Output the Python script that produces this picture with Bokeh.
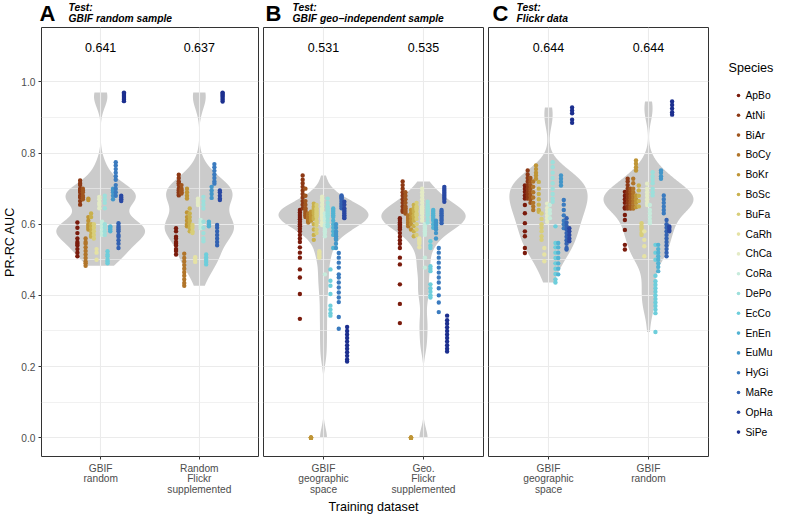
import numpy as np
from bokeh.plotting import figure
from bokeh.models import Range1d, FixedTicker, Grid, PrintfTickFormatter
from bokeh.layouts import row, column
from bokeh.embed import file_html
from bokeh.resources import INLINE
from bokeh.core.properties import value

# ---------------- data ----------------
SPECIES = ["ApBo", "AtNi", "BiAr", "BoCy", "BoKr", "BoSc", "BuFa", "CaRh", "ChCa",
           "CoRa", "DePo", "EcCo", "EnEn", "EuMu", "HyGi", "MaRe", "OpHa", "SiPe"]
COLORS = ["#7a1b0c", "#8d3915", "#a0561f", "#b1752a", "#bf9536", "#c9b14d", "#d8ce79",
          "#e5e2a4", "#e4ebc6", "#c7ebdc", "#9ddfdb", "#6ecedb", "#52b3d3", "#4396c9",
          "#3b7bbf", "#3362b2", "#2948a3", "#1c2f8f"]

A_GBIF_RANDOM = {
    "ApBo": [0.605, 0.59, 0.575, 0.56, 0.55, 0.545, 0.54, 0.53, 0.52, 0.51],
    "AtNi": [0.723, 0.715, 0.71, 0.70, 0.695, 0.69, 0.68, 0.675, 0.665, 0.655],
    "BiAr": [0.70, 0.695, 0.69, 0.68, 0.675, 0.67],
    "BoCy": [0.56, 0.55, 0.545, 0.535, 0.525, 0.515, 0.505, 0.495, 0.49, 0.483],
    "BoKr": [0.672, 0.668, 0.62, 0.61, 0.60, 0.595, 0.59, 0.585],
    "BoSc": [0.63, 0.62, 0.60, 0.59, 0.58, 0.57, 0.565],
    "BuFa": [0.60, 0.59, 0.58, 0.57, 0.56],
    "CaRh": [0.53, 0.52, 0.50],
    "ChCa": [0.677, 0.67, 0.66, 0.655, 0.645],
    "CoRa": [0.607, 0.60, 0.595, 0.59, 0.58, 0.575, 0.57],
    "DePo": [0.68, 0.67, 0.66, 0.645, 0.60, 0.59, 0.58, 0.57],
    "EcCo": [0.524, 0.515, 0.51, 0.50, 0.495, 0.49],
    "EnEn": [0.594, 0.59, 0.585, 0.58],
    "EuMu": [0.70, 0.695, 0.69, 0.68, 0.67],
    "HyGi": [0.774, 0.765, 0.755, 0.745, 0.735, 0.725, 0.71, 0.70, 0.69, 0.68],
    "MaRe": [0.603, 0.595, 0.59, 0.585, 0.58, 0.57, 0.565, 0.555, 0.545, 0.533],
    "OpHa": [0.68, 0.675, 0.67, 0.665],
    "SiPe": [0.97, 0.967, 0.963, 0.96, 0.955, 0.95, 0.946],
}
A_RANDOM_FLICKR = {
    "ApBo": [0.589, 0.58, 0.565, 0.56, 0.55, 0.545, 0.54, 0.53, 0.525, 0.515],
    "AtNi": [0.739, 0.73, 0.72, 0.715, 0.71, 0.70, 0.695, 0.69, 0.685, 0.681],
    "BiAr": [0.71, 0.70, 0.695, 0.69, 0.686],
    "BoCy": [0.517, 0.505, 0.495, 0.485, 0.475, 0.465, 0.455, 0.445, 0.435, 0.427],
    "BoKr": [0.70, 0.69, 0.68, 0.672, 0.633, 0.62, 0.61, 0.60, 0.594],
    "BoSc": [0.644, 0.63, 0.62, 0.61, 0.60, 0.59, 0.58],
    "BuFa": [0.598, 0.59, 0.58, 0.575],
    "CaRh": [0.507, 0.50, 0.494],
    "ChCa": [0.672, 0.665, 0.66, 0.654],
    "CoRa": [0.612, 0.605, 0.60, 0.594, 0.589],
    "DePo": [0.677, 0.665, 0.655, 0.644, 0.607, 0.59, 0.575, 0.56, 0.552],
    "EcCo": [0.515, 0.507, 0.50, 0.494, 0.487],
    "EnEn": [0.607, 0.60, 0.594],
    "EuMu": [0.705, 0.695, 0.685, 0.674],
    "HyGi": [0.769, 0.76, 0.75, 0.74, 0.73, 0.72, 0.714],
    "MaRe": [0.598, 0.59, 0.58, 0.57, 0.56, 0.55, 0.541],
    "OpHa": [0.695, 0.69, 0.68, 0.672, 0.668],
    "SiPe": [0.97, 0.967, 0.963, 0.96, 0.955, 0.95, 0.945],
}
B_GBIF_GEO = {
    "ApBo": [0.64, 0.633, 0.626, 0.62, 0.614, 0.607, 0.60, 0.594, 0.587, 0.58, 0.57, 0.56,
             0.55, 0.535, 0.52, 0.506, 0.473, 0.45, 0.404, 0.334],
    "AtNi": [0.737, 0.725, 0.715, 0.705, 0.695, 0.685, 0.675, 0.665, 0.655, 0.645],
    "BiAr": [0.70, 0.68, 0.665, 0.655, 0.645, 0.64, 0.635, 0.63, 0.625, 0.62],
    "BoCy": [0.63, 0.625, 0.621, 0.619, 0.617, 0.615, 0.612, 0.61, 0.608, 0.605],
    "BoKr": [0.635, 0.63, 0.625, 0.62, 0.615, 0.61, 0.0, 0.0, 0.0, 0.0, 0.0, 0.0, 0.0],
    "BoSc": [0.658, 0.65, 0.645, 0.64, 0.635, 0.63, 0.62, 0.615, 0.60, 0.585, 0.57, 0.556],
    "BuFa": [0.654, 0.645, 0.64, 0.635, 0.63, 0.625, 0.62, 0.61, 0.605, 0.598, 0.585, 0.575],
    "CaRh": [0.524, 0.52, 0.515, 0.51, 0.506],
    "ChCa": [0.677, 0.67, 0.665, 0.655, 0.645, 0.64, 0.635, 0.63, 0.625, 0.62, 0.615, 0.605, 0.598],
    "CoRa": [0.63, 0.62, 0.61, 0.598, 0.595, 0.59, 0.585, 0.58, 0.575, 0.566, 0.459],
    "DePo": [0.672, 0.66, 0.65, 0.645, 0.64, 0.635, 0.63, 0.625, 0.62, 0.61, 0.60, 0.594],
    "EcCo": [0.473, 0.441, 0.427, 0.404, 0.371, 0.36, 0.35, 0.343],
    "EnEn": [0.644, 0.64, 0.635, 0.63, 0.625, 0.62, 0.61, 0.60, 0.59, 0.58, 0.57, 0.533],
    "EuMu": [0.60, 0.59, 0.58, 0.575, 0.57, 0.566, 0.56, 0.556, 0.545, 0.533],
    "HyGi": [0.519, 0.506, 0.492, 0.478, 0.459, 0.45, 0.436, 0.422, 0.408, 0.394, 0.381, 0.339, 0.306],
    "MaRe": [0.681, 0.678, 0.675, 0.672, 0.668, 0.663, 0.658, 0.654, 0.65, 0.645],
    "OpHa": [0.663, 0.655, 0.645, 0.64, 0.635, 0.63, 0.625, 0.62, 0.617],
    "SiPe": [0.311, 0.30, 0.29, 0.28, 0.27, 0.26, 0.25, 0.24, 0.23, 0.22, 0.214],
}
B_GEO_FLICKR = {
    "ApBo": [0.617, 0.612, 0.605, 0.60, 0.595, 0.59, 0.585, 0.575, 0.565, 0.555, 0.545, 0.533,
             0.506, 0.487, 0.431, 0.376, 0.322],
    "AtNi": [0.72, 0.71, 0.70, 0.69, 0.68, 0.67, 0.66, 0.65, 0.64, 0.635],
    "BiAr": [0.69, 0.68, 0.67, 0.66, 0.65, 0.645, 0.64, 0.635, 0.63],
    "BoCy": [0.625, 0.621, 0.618, 0.615, 0.61, 0.605, 0.60, 0.594],
    "BoKr": [0.64, 0.63, 0.62, 0.61, 0.60, 0.585, 0.0, 0.0, 0.0, 0.0, 0.0, 0.0, 0.0],
    "BoSc": [0.654, 0.645, 0.64, 0.635, 0.625, 0.62, 0.61, 0.595, 0.58, 0.566],
    "BuFa": [0.66, 0.65, 0.645, 0.64, 0.63, 0.625, 0.615, 0.60, 0.585, 0.57],
    "CaRh": [0.56, 0.555, 0.55, 0.545, 0.535],
    "ChCa": [0.70, 0.69, 0.68, 0.67, 0.66, 0.65, 0.645, 0.64, 0.635, 0.63, 0.62, 0.61],
    "CoRa": [0.60, 0.594, 0.59, 0.585, 0.58, 0.575, 0.57, 0.506, 0.478],
    "DePo": [0.663, 0.655, 0.65, 0.645, 0.64, 0.635, 0.63, 0.625, 0.615, 0.605],
    "EcCo": [0.552, 0.54, 0.533, 0.482, 0.475, 0.468, 0.431, 0.42, 0.41, 0.40, 0.394],
    "EnEn": [0.64, 0.635, 0.63, 0.625, 0.62, 0.615, 0.61, 0.60, 0.59],
    "EuMu": [0.61, 0.605, 0.60, 0.598, 0.59, 0.585, 0.575, 0.56],
    "HyGi": [0.533, 0.52, 0.506, 0.492, 0.478, 0.464, 0.45, 0.436, 0.42, 0.40, 0.38, 0.353],
    "MaRe": [0.64, 0.635, 0.63, 0.625, 0.62, 0.615, 0.61, 0.603],
    "OpHa": [0.705, 0.70, 0.695, 0.69, 0.685, 0.68, 0.675, 0.67, 0.663],
    "SiPe": [0.343, 0.33, 0.32, 0.31, 0.30, 0.29, 0.28, 0.27, 0.26, 0.25, 0.242],
}
C_GBIF_GEO = {
    "ApBo": [0.709, 0.70, 0.691, 0.681, 0.672, 0.654, 0.631, 0.603, 0.58, 0.566, 0.533, 0.519],
    "AtNi": [0.751, 0.74, 0.73, 0.72, 0.71, 0.70, 0.69, 0.68, 0.672],
    "BiAr": [0.73, 0.72, 0.71, 0.70, 0.69, 0.68, 0.67, 0.66],
    "BoCy": [0.72, 0.705, 0.69, 0.675, 0.66, 0.65, 0.64],
    "BoKr": [0.765, 0.755, 0.745, 0.737, 0.728],
    "BoSc": [0.719, 0.70, 0.685, 0.67, 0.655, 0.64, 0.635],
    "BuFa": [0.63, 0.615, 0.60, 0.59, 0.58, 0.566, 0.556],
    "CaRh": [0.533, 0.515, 0.496],
    "ChCa": [0.658, 0.645, 0.635, 0.625, 0.617, 0.607],
    "CoRa": [0.654, 0.64, 0.63, 0.617],
    "DePo": [0.774, 0.76, 0.745, 0.73, 0.715, 0.70, 0.685, 0.672, 0.663],
    "EcCo": [0.594, 0.547, 0.535, 0.52, 0.505, 0.49, 0.475, 0.46, 0.445, 0.436],
    "EnEn": [0.547, 0.535, 0.52, 0.505, 0.49, 0.475, 0.459],
    "EuMu": [0.737, 0.728, 0.719, 0.709],
    "HyGi": [0.668, 0.655, 0.64, 0.625, 0.61, 0.60, 0.589],
    "MaRe": [0.617, 0.605, 0.595, 0.585, 0.575, 0.565, 0.555, 0.545, 0.533, 0.529],
    "OpHa": [0.589, 0.58, 0.57, 0.56, 0.552],
    "SiPe": [0.928, 0.92, 0.912, 0.894, 0.885],
}
C_GBIF_RANDOM = {
    "ApBo": [0.691, 0.68, 0.67, 0.66, 0.648, 0.644, 0.626, 0.612, 0.584, 0.542, 0.529],
    "AtNi": [0.728, 0.72, 0.71, 0.70, 0.69, 0.68, 0.67, 0.66, 0.65, 0.644],
    "BiAr": [0.70, 0.69, 0.68, 0.67, 0.66, 0.65, 0.644],
    "BoCy": [0.728, 0.715, 0.70, 0.69, 0.68, 0.67, 0.66, 0.65, 0.644],
    "BoKr": [0.779, 0.77, 0.76, 0.751, 0.681, 0.67, 0.66, 0.648],
    "BoSc": [0.709, 0.695, 0.68, 0.665, 0.65],
    "BuFa": [0.603, 0.595, 0.59, 0.584, 0.575, 0.57],
    "CaRh": [0.58, 0.556, 0.538, 0.51],
    "ChCa": [0.714, 0.70, 0.69, 0.68, 0.67, 0.66, 0.654],
    "CoRa": [0.654, 0.64, 0.63, 0.62, 0.61, 0.603],
    "DePo": [0.746, 0.735, 0.725, 0.715, 0.70, 0.69, 0.681],
    "EcCo": [0.542, 0.52, 0.50, 0.455, 0.44, 0.43, 0.42, 0.41, 0.40, 0.39, 0.38, 0.37, 0.36, 0.35, 0.297],
    "EnEn": [0.542, 0.53, 0.52, 0.51, 0.50, 0.49, 0.48, 0.468],
    "EuMu": [0.751, 0.745, 0.735, 0.728],
    "HyGi": [0.681, 0.67, 0.66, 0.65, 0.64, 0.631],
    "MaRe": [0.612, 0.60, 0.59, 0.58, 0.57, 0.56, 0.55, 0.54, 0.53, 0.52, 0.51],
    "OpHa": [0.594, 0.59, 0.584, 0.58],
    "SiPe": [0.945, 0.935, 0.925, 0.915, 0.908],
}

MEANS_A = [0.641, 0.637]
MEANS_B = [0.531, 0.535]
MEANS_C = [0.644, 0.644]

TICKS_A = ["GBIF\nrandom", "Random\nFlickr\nsupplemented"]
TICKS_B = ["GBIF\ngeographic\nspace", "Geo.\nFlickr\nsupplemented"]
TICKS_C = ["GBIF\ngeographic\nspace", "GBIF\nrandom"]

LETTERS = ["A", "B", "C"]
TESTS = ["GBIF random sample", "GBIF geo\u2212independent sample", "Flickr data"]
Y_TICKS = [0.0, 0.2, 0.4, 0.6, 0.8, 1.0]
Y_MINOR = [0.1, 0.3, 0.5, 0.7, 0.9]

# ---------------- layout constants ----------------
FONT = "Liberation Sans"
YMIN, YMAX = -0.053, 1.153
XMIN, XMAX = 0.4, 2.6
FW = 220
TOTAL_W, TOTAL_H = 785, 517
HEAD_H = 26          # header strip holding the panel titles
FRAME_TOP = 27       # page y of the panel frame top
FRAME_BOTTOM = 461   # page y of the panel frame bottom
PANEL_H = TOTAL_H - HEAD_H
P_TOP = FRAME_TOP - HEAD_H
P_BOTTOM = TOTAL_H - FRAME_BOTTOM
DODGE = 0.5
LABEL_Y = 1.097
LEG_TITLE_Y, LEG_FIRST_Y, LEG_STEP = 67, 95, 19.8


def kde(vals):
    v = np.asarray(vals, dtype=float)
    n = len(v)
    sd = v.std(ddof=1)
    q75, q25 = np.percentile(v, [75, 25])
    lo = min(sd, (q75 - q25) / 1.34)
    bw = 0.9 * lo * n ** -0.2
    grid = np.linspace(v.min(), v.max(), 512)
    d = np.exp(-0.5 * ((grid[:, None] - v[None, :]) / bw) ** 2).sum(1) / (n * bw * np.sqrt(2 * np.pi))
    return grid, d


def bare(width, height):
    f = figure(width=width, height=height, x_range=Range1d(0, width), y_range=Range1d(height, 0),
               output_backend="svg", toolbar_location=None, title=None, min_border=0,
               x_axis_location=None, y_axis_location=None)
    f.outline_line_color = None
    f.center = [r for r in f.center if not isinstance(r, Grid)]
    return f


def style_axis(ax):
    ax.axis_line_color = None
    ax.major_tick_line_color = "#333333"
    ax.major_tick_out = 3
    ax.major_tick_in = 0
    ax.minor_tick_line_color = None
    ax.major_label_text_font = FONT
    ax.major_label_text_font_size = "10.2px"
    ax.major_label_text_color = "#4d4d4d"
    ax.axis_label_text_font = FONT
    ax.axis_label_text_font_size = "12.6px"
    ax.axis_label_text_font_style = "normal"
    ax.axis_label_text_color = "black"


def panel(groups, means, ticks, left, right, show_y):
    p = figure(width=left + FW + right, height=PANEL_H,
               x_range=Range1d(XMIN, XMAX), y_range=Range1d(YMIN, YMAX),
               output_backend="svg", toolbar_location=None, title=None,
               min_border_left=left, min_border_right=right,
               min_border_top=P_TOP, min_border_bottom=P_BOTTOM,
               y_axis_location="left" if show_y else None)
    p.center = [r for r in p.center if not isinstance(r, Grid)]
    p.add_layout(Grid(dimension=0, ticker=FixedTicker(ticks=[1, 2]),
                      grid_line_color="#ebebeb", grid_line_width=1.1))
    p.add_layout(Grid(dimension=1, ticker=FixedTicker(ticks=Y_TICKS, minor_ticks=Y_MINOR),
                      grid_line_color="#ebebeb", grid_line_width=1.1,
                      minor_grid_line_color="#ebebeb", minor_grid_line_width=0.7))
    p.outline_line_color = "#333333"
    p.outline_line_width = 1
    p.background_fill_color = "white"
    p.border_fill_color = "white"

    # violins (gaussian KDE, bw.nrd0, trimmed, area-scaled within panel)
    dens = [kde(np.concatenate([g[s] for s in SPECIES])) for g in groups]
    dmax = max(d.max() for _, d in dens)
    for k, (yy, dd) in enumerate(dens):
        half = 0.45 * dd / dmax
        p.harea(x1=(k + 1) - half, x2=(k + 1) + half, y=yy,
                fill_color="#cbcbcb", fill_alpha=1.0, level="image")

    # points, dodged by species
    xs, ys, cs = [], [], []
    nsp = len(SPECIES)
    for k, g in enumerate(groups):
        for i, s in enumerate(SPECIES):
            for v in g[s]:
                xs.append(k + 1 + (i - (nsp - 1) / 2) * DODGE / nsp)
                ys.append(v)
                cs.append(COLORS[i])
    p.scatter(x=xs, y=ys, fill_color=cs, line_color=None, size=4.4)

    # mean labels
    p.text(x=[1, 2], y=[LABEL_Y, LABEL_Y], text=[f"{m:.3f}" for m in means],
           text_font=value(FONT), text_font_size="12.5px", text_align="center",
           text_baseline="middle", text_color="black")

    # axes
    xa = p.xaxis[0]
    xa.ticker = FixedTicker(ticks=[1, 2])
    xa.major_label_overrides = {1: ticks[0], 2: ticks[1]}
    style_axis(xa)
    xa.major_label_text_line_height = 0.98
    xa.major_label_standoff = 3
    if show_y:
        ya = p.yaxis[0]
        ya.ticker = FixedTicker(ticks=Y_TICKS)
        ya.formatter = PrintfTickFormatter(format="%.1f")
        style_axis(ya)
        ya.major_label_standoff = 3
    return p


def header(width, frame_left, letter, test, letter_dx, text_dx):
    h = bare(width, HEAD_H)
    h.text(x=[frame_left + letter_dx], y=[12.6], text=[letter], text_font=value(FONT),
           text_font_size="22px", text_font_style=value("bold"),
           text_baseline="middle", text_align="left", text_color="black")
    h.text(x=[frame_left + text_dx] * 2, y=[7.4, 17.6], text=["Test:", test],
           text_font=value(FONT), text_font_size="10.3px",
           text_font_style=value("bold italic"),
           text_baseline="middle", text_align="left", text_color="black")
    return h


pA = panel([A_GBIF_RANDOM, A_RANDOM_FLICKR], MEANS_A, TICKS_A, 38, 2, True)
pB = panel([B_GBIF_GEO, B_GEO_FLICKR], MEANS_B, TICKS_B, 3, 2, False)
pC = panel([C_GBIF_GEO, C_GBIF_RANDOM], MEANS_C, TICKS_C, 3, 1, False)

pA.yaxis[0].axis_label = "PR-RC AUC"
pA.yaxis[0].axis_label_standoff = 1
pB.xaxis[0].axis_label = "Training dataset"
pB.xaxis[0].axis_label_standoff = 2

hA = header(pA.width, 38, LETTERS[0], TESTS[0], 1, 30)
hB = header(pB.width, 3, LETTERS[1], TESTS[1], 2, 29)
hC = header(pC.width, 3, LETTERS[2], TESTS[2], 4, 28)

# legend panel
LW = TOTAL_W - pA.width - pB.width - pC.width
pL = bare(LW, TOTAL_H)
leg_y = [LEG_FIRST_Y + LEG_STEP * i for i in range(len(SPECIES))]
pL.scatter(x=[29] * len(SPECIES), y=leg_y, fill_color=COLORS, line_color=None, size=3.6)
pL.text(x=[36] * len(SPECIES), y=leg_y, text=SPECIES, text_font=value(FONT),
        text_font_size="10.3px", text_baseline="middle", text_align="left", text_color="black")
pL.text(x=[19], y=[LEG_TITLE_Y], text=["Species"], text_font=value(FONT), text_font_size="12.6px",
        text_baseline="middle", text_align="left", text_color="black")

layout = row(column(row(hA, hB, hC), row(pA, pB, pC)), pL)
open("out.html", "w").write(file_html(layout, INLINE))
